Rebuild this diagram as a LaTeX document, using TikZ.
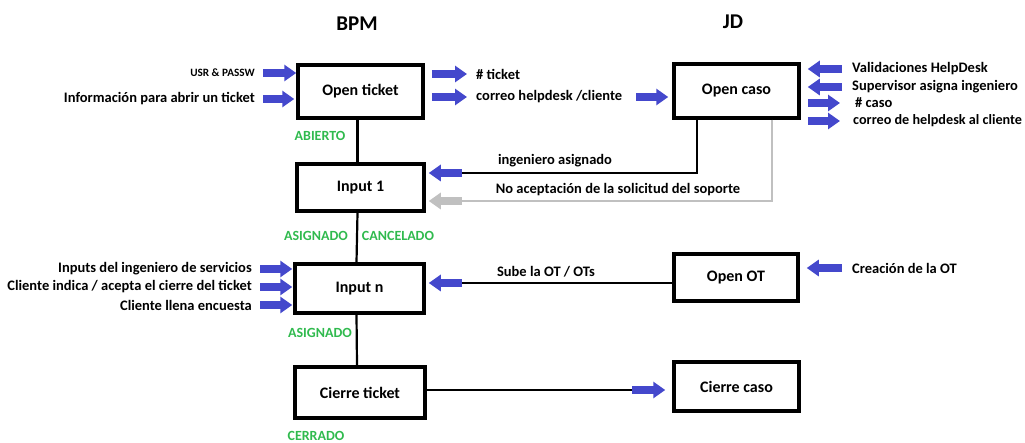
\documentclass[tikz,border=0pt]{standalone}
\usepackage{fontspec}
\setmainfont{Carlito}
\usetikzlibrary{arrows.meta}
\definecolor{flowblue}{RGB}{68,72,204}
\definecolor{stategreen}{RGB}{48,186,78}
\definecolor{rejectgray}{RGB}{192,192,192}
\tikzset{
  stage/.style={draw, line width=3.5pt, inner sep=0pt, font=\bfseries\fontsize{16}{18}\selectfont},
  lbl/.style={font=\bfseries\fontsize{14.5}{16}\selectfont, inner sep=0pt},
  small/.style={font=\bfseries\fontsize{11.2}{13}\selectfont, inner sep=0pt},
  title/.style={font=\bfseries\fontsize{21}{23}\selectfont, inner sep=0pt},
  state/.style={font=\bfseries\fontsize{14}{16}\selectfont, inner sep=0pt, text=stategreen},
  conn/.style={line width=2.2pt},
  graylink/.style={line width=2.2pt, draw=rejectgray},
  barrow/.style={draw=flowblue, line width=7.5pt, -{Triangle[length=12pt,width=16pt]}},
  garrow/.style={draw=rejectgray, line width=7.5pt, -{Triangle[length=12pt,width=16pt]}},
}
\begin{document}
\begin{tikzpicture}[x=1pt,y=-1pt]
\useasboundingbox (0,0) rectangle (1025,443);

% column titles
\node[title] (bpm) at (357,24) {BPM};
\node[title] (jd) at (733,22) {JD};

% BPM stages
\node[stage, minimum width=125pt, minimum height=53pt] (ot) at (360.5,91.5) {Open ticket};
\node[stage, minimum width=127pt, minimum height=47pt] (in1) at (360.5,187.5) {Input 1};
\node[stage, minimum width=129pt, minimum height=49pt] (inn) at (359.5,288.5) {Input n};
\node[stage, minimum width=130pt, minimum height=51pt] (ct) at (360,392.5) {Cierre ticket};

% JD stages
\node[stage, minimum width=125pt, minimum height=54pt] (oc) at (736.5,91) {Open caso};
\node[stage, minimum width=124pt, minimum height=47pt] (oot) at (736,277.5) {Open OT};
\node[stage, minimum width=125pt, minimum height=49pt] (cc) at (736.5,386.5) {Cierre caso};

% BPM trunk
\draw[conn] ([xshift=-3pt]ot.south) -- ([xshift=-3pt]in1.north);
\draw[conn] ([xshift=-3pt]in1.south) -- ([xshift=-3pt]inn.north);
\draw[conn] ([xshift=-3pt]inn.south) -- ([xshift=-3pt]ct.north);

% states
\node[state] (s1) at (320,136) {ABIERTO};
\node[state] (s2) at (316,236) {ASIGNADO};
\node[state] (s3) at (398,236) {CANCELADO};
\node[state] (s4) at (320,333) {ASIGNADO};
\node[state] (s5) at (316,435.5) {CERRADO};

% inputs of Open ticket
\node[small, anchor=east] (usr) at (255,73) {USR \& PASSW};
\node[lbl, anchor=east] (info) at (255,99) {Información para abrir un ticket};
\draw[barrow] ([xshift=8pt]usr.east) -- (ot.west |- usr.east);
\draw[barrow] ([xshift=8pt]info.east) -- ([xshift=-2pt]ot.west |- info.east);

% outputs of Open ticket
\node[lbl, anchor=west] (tk) at (476,74) {\# ticket};
\node[lbl, anchor=west] (mail) at (476,97) {correo helpdesk /cliente};
\draw[barrow] ([xshift=7pt]ot.east |- tk.west) -- ([xshift=-9pt]tk.west);
\draw[barrow] ([xshift=7pt]ot.east |- mail.west) -- ([xshift=-9pt]mail.west);
\coordinate (mailtail) at (636,97);
\draw[barrow] (mailtail) -- ([xshift=-4pt]oc.west |- mailtail);

% Open caso inputs / outputs
\node[lbl, anchor=west] (val) at (852,69) {Validaciones HelpDesk};
\node[lbl, anchor=west] (sup) at (852,87) {Supervisor asigna ingeniero};
\node[lbl, anchor=west] (caso) at (855,103) {\# caso};
\node[lbl, anchor=west, font=\bfseries\fontsize{14.2}{16}\selectfont] (mail2) at (853,121) {correo de helpdesk al cliente};
\draw[barrow] ([xshift=-10pt]val.west) -- ([xshift=7pt]oc.east |- val.west);
\draw[barrow] ([xshift=-10pt]sup.west) -- ([xshift=7pt]oc.east |- sup.west);
\draw[barrow] ([xshift=7pt]oc.east |- caso.west) -- (840,0 |- caso.west);
\draw[barrow] ([xshift=7pt]oc.east |- mail2.west) -- (840,0 |- mail2.west);

% engineer assigned / rejected
\coordinate (ia) at (462,173);
\coordinate (na) at (462,201);
\draw[conn] ([xshift=-39.5pt]oc.south) |- (ia);
\draw[barrow] (ia) -- ([xshift=3pt]in1.east |- ia);
\node[lbl] (ialbl) at (555,161) {ingeniero asignado};
\draw[graylink] ([xshift=35.5pt]oc.south) |- (na);
\draw[garrow] (na) -- ([xshift=3pt]in1.east |- na);
\node[lbl] (nalbl) at (618,190) {No aceptación de la solicitud del soporte};

% inputs of Input n
\node[lbl, anchor=east] (ing) at (252,269) {Inputs del ingeniero de servicios};
\node[lbl, anchor=east] (cli) at (252,287) {Cliente indica / acepta el cierre del ticket};
\node[lbl, anchor=east] (enc) at (252,305) {Cliente llena encuesta};
\draw[barrow] ([xshift=8pt]ing.east) -- ([xshift=-1pt]inn.west |- ing.east);
\draw[barrow] ([xshift=8pt]cli.east) -- ([xshift=-1pt]inn.west |- cli.east);
\draw[barrow] ([xshift=8pt]enc.east) -- ([xshift=-1pt]inn.west |- enc.east);

% Open OT
\node[lbl, anchor=west] (cre) at (852,268) {Creación de la OT};
\draw[barrow] ([xshift=-10pt]cre.west) -- ([xshift=7pt]oot.east |- cre.west);
\coordinate (ot2) at (462,283);
\draw[conn] (oot.west |- ot2) -- (ot2);
\draw[barrow] (ot2) -- ([xshift=3pt]inn.east |- ot2);
\node[lbl] (sube) at (546,272) {Sube la OT / OTs};

% closing
\coordinate (cl) at (632,390);
\draw[conn] (ct.east |- cl) -- (cl);
\draw[barrow] (cl) -- ([xshift=-7pt]cc.west |- cl);
\end{tikzpicture}
\end{document}
